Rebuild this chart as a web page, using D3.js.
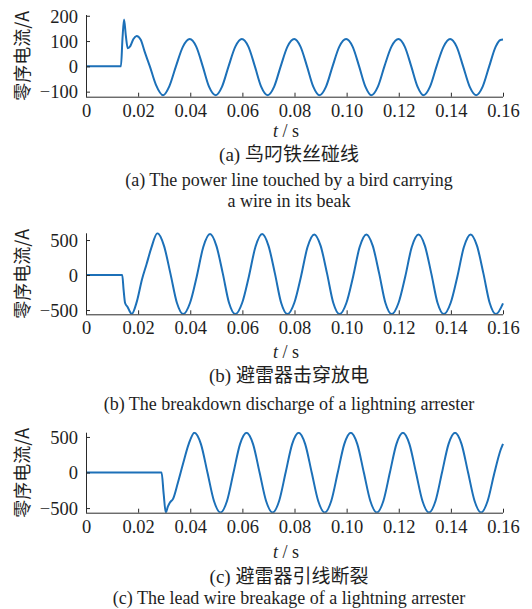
<!DOCTYPE html>
<html>
<head>
<meta charset="utf-8">
<script src="https://cdn.jsdelivr.net/npm/d3@7/dist/d3.min.js"></script>
<style>
  html, body { margin: 0; padding: 0; background: #fff; }
  svg { display: block; }
</style>
</head>
<body>
<svg id="chart" width="532" height="609"></svg>
<script>
// ---------------- DATA ----------------
const xTicks = [0, 0.02, 0.04, 0.06, 0.08, 0.10, 0.12, 0.14, 0.16];
const xTickLabels = ["0", "0.02", "0.04", "0.06", "0.08", "0.10", "0.12", "0.14", "0.16"];

const yTicksA = [-100, 0, 100, 200];
const yTicksB = [-500, 0, 500];
const yTicksC = [-500, 0, 500];

// (a) bird carrying a wire: [t (s), zero-sequence current (A)]
const seriesA = [
  [0,0],[0.0134,0],[0.0140,110],[0.0146,185],[0.0153,120],[0.0160,72],[0.0170,80],[0.0182,108],
  [0.0194,120],[0.0210,105],[0.0225,58],[0.0245,0],[0.0268,-72],[0.0296,-114],
  [0.0320,-78],[0.0345,0],[0.0372,78],[0.0398,108],[0.0423,78],[0.0448,0],[0.0472,-80],[0.0498,-114],
  [0.0522,-80],[0.0547,0],[0.0573,78],[0.0598,108],[0.0623,78],[0.0648,0],[0.0672,-80],[0.0697,-114],
  [0.0722,-80],[0.0747,0],[0.0773,78],[0.0799,108],[0.0823,78],[0.0848,0],[0.0872,-80],[0.0896,-114],
  [0.0921,-80],[0.0946,0],[0.0972,78],[0.0998,108],[0.1023,78],[0.1048,0],[0.1072,-80],[0.1095,-114],
  [0.1120,-80],[0.1145,0],[0.1172,78],[0.1199,108],[0.1223,78],[0.1248,0],[0.1272,-80],[0.1295,-114],
  [0.1320,-80],[0.1345,0],[0.1372,78],[0.1397,108],[0.1422,78],[0.1447,0],[0.1472,-80],[0.1497,-114],
  [0.1522,-80],[0.1547,0],[0.1572,78],[0.1590,104],[0.1600,106]
];

// (b) breakdown discharge of a lightning arrester
const seriesB = [
  [0,0],[0.0139,0],[0.0144,-200],[0.0150,-400],[0.0160,-460],[0.0168,-520],[0.0175,-558],
  [0.0195,-380],[0.0215,-60],[0.0232,150],[0.0250,380],[0.0274,596],
  [0.0299,420],[0.0324,20],[0.0349,-400],[0.0373,-558],
  [0.0399,-400],[0.0425,-20],[0.0450,400],[0.0476,585],
  [0.0500,420],[0.0525,20],[0.0549,-400],[0.0573,-558],
  [0.0599,-400],[0.0625,-20],[0.0650,400],[0.0676,585],
  [0.0700,420],[0.0725,20],[0.0749,-400],[0.0773,-558],
  [0.0799,-400],[0.0825,-20],[0.0850,400],[0.0876,580],
  [0.0900,420],[0.0925,20],[0.0949,-400],[0.0973,-558],
  [0.0999,-400],[0.1025,-20],[0.1050,400],[0.1076,580],
  [0.1100,420],[0.1125,20],[0.1149,-400],[0.1173,-558],
  [0.1199,-400],[0.1225,-20],[0.1250,400],[0.1276,578],
  [0.1300,420],[0.1325,20],[0.1349,-400],[0.1373,-558],
  [0.1399,-400],[0.1425,-20],[0.1450,400],[0.1476,580],
  [0.1500,420],[0.1525,20],[0.1549,-400],[0.1573,-558],
  [0.1600,-405]
];

// (c) lead wire breakage of a lightning arrester
const seriesC = [
  [0,0],[0.0290,0],[0.0298,-300],[0.0306,-563],[0.0314,-480],[0.0322,-420],[0.0334,-370],
  [0.0352,-150],[0.0372,120],[0.0394,400],[0.0416,560],
  [0.0441,400],[0.0466,0],[0.0491,-400],[0.0516,-563],
  [0.0541,-400],[0.0566,0],[0.0591,400],[0.0616,560],
  [0.0641,400],[0.0666,0],[0.0691,-400],[0.0716,-563],
  [0.0741,-400],[0.0766,0],[0.0791,400],[0.0816,560],
  [0.0841,400],[0.0866,0],[0.0891,-400],[0.0916,-563],
  [0.0941,-400],[0.0966,0],[0.0991,400],[0.1016,560],
  [0.1041,400],[0.1066,0],[0.1091,-400],[0.1116,-563],
  [0.1141,-400],[0.1166,0],[0.1191,400],[0.1216,560],
  [0.1241,400],[0.1266,0],[0.1291,-400],[0.1316,-563],
  [0.1341,-400],[0.1366,0],[0.1391,400],[0.1416,560],
  [0.1441,400],[0.1466,0],[0.1491,-400],[0.1516,-563],
  [0.1541,-400],[0.1566,-20],[0.1591,320],[0.1600,404]
];

const yDomainA = [-120, 203];
const yDomainB = [-561, 596];
const yDomainC = [-565, 560];

const yLabel = "零序电流/A";
const xLabel = ["t", " / s"];
const captionsZh = ["(a) 鸟叼铁丝碰线", "(b) 避雷器击穿放电", "(c) 避雷器引线断裂"];
const captionsEn = [
  ["(a) The power line touched by a bird carrying", "a wire in its beak"],
  ["(b) The breakdown discharge of a lightning arrester"],
  ["(c) The lead wire breakage of a lightning arrester"]
];

// ---------------- DRAWING ----------------
const svg = d3.select("#chart");
const X0 = 86, X1 = 503;
const lineColor = "#1c70b8";
const axisColor = "#2a2a2a";
const textColor = "#1e1e1e";
const serif = "'Liberation Serif', 'Times New Roman', serif";
const zhFont = "'Liberation Serif', 'Noto Sans CJK SC', serif";
const capX = 289;

const panels = [
  { data: seriesA, dom: yDomainA, ticks: yTicksA, top: 15, bottom: 96.7,
    tsY: 137, zhY: 161, enY: [186, 207] },
  { data: seriesB, dom: yDomainB, ticks: yTicksB, top: 233.3, bottom: 314.3,
    tsY: 358, zhY: 382, enY: [410] },
  { data: seriesC, dom: yDomainC, ticks: yTicksC, top: 432.7, bottom: 512.7,
    tsY: 558, zhY: 583, enY: [604] }
];

function styleText(sel, fam, size) {
  sel.style("font-family", fam).style("font-size", size + "px").attr("fill", textColor);
}

panels.forEach((p, i) => {
  const x = d3.scaleLinear().domain([0, 0.16]).range([X0, X1]);
  const y = d3.scaleLinear().domain(p.dom).range([p.bottom, p.top]);
  const g = svg.append("g");

  const clipId = "clip" + i;
  g.append("clipPath").attr("id", clipId).append("rect")
    .attr("x", X0).attr("y", p.top - 1).attr("width", X1 - X0 + 1).attr("height", p.bottom - p.top + 1);

  // data line
  const line = d3.line().x(d => x(d[0])).y(d => y(d[1])).curve(d3.curveMonotoneX);
  g.append("path").datum(p.data)
    .attr("clip-path", `url(#${clipId})`)
    .attr("d", line).attr("fill", "none")
    .attr("stroke", lineColor).attr("stroke-width", 2).attr("stroke-linejoin", "round");

  // x axis (ticks inward)
  const xAxis = d3.axisBottom(x).tickValues(xTicks).tickSizeInner(-4).tickSizeOuter(0)
    .tickFormat((d, k) => xTickLabels[k]);
  const gx = g.append("g").attr("transform", `translate(0,${p.bottom})`).call(xAxis);
  gx.select(".domain").attr("stroke", axisColor).attr("d", `M${X0},0.5H${X1}`);
  gx.selectAll(".tick line").attr("stroke", axisColor);
  const xt = gx.selectAll(".tick text").attr("y", 20).attr("dy", 0);
  styleText(xt, serif, 18.5);

  // y axis (ticks inward)
  const yAxis = d3.axisLeft(y).tickValues(p.ticks).tickSizeInner(-4).tickSizeOuter(0);
  const gy = g.append("g").attr("transform", `translate(${X0},0)`).call(yAxis);
  gy.select(".domain").attr("stroke", axisColor).attr("d", `M0.5,${p.top}V${p.bottom}`);
  gy.selectAll(".tick line").attr("stroke", axisColor);
  const yt = gy.selectAll(".tick text").attr("x", -8).attr("dy", "0.34em");
  styleText(yt, serif, 18.5);

  // y label
  const yl = g.append("text")
    .attr("transform", `translate(29,${(p.top + p.bottom) / 2}) rotate(-90)`)
    .attr("text-anchor", "middle").text(yLabel);
  styleText(yl, "'Noto Sans CJK SC', sans-serif", 18);

  // x label
  const tl = g.append("text").attr("x", capX - 3).attr("y", p.tsY).attr("text-anchor", "middle");
  styleText(tl, serif, 18);
  tl.append("tspan").attr("font-style", "italic").text(xLabel[0]);
  tl.append("tspan").text(xLabel[1]);

  // captions
  const zh = g.append("text").attr("x", capX).attr("y", p.zhY)
    .attr("text-anchor", "middle").text(captionsZh[i]);
  styleText(zh, zhFont, 19);
  captionsEn[i].forEach((s, k) => {
    const en = g.append("text").attr("x", capX).attr("y", p.enY[k])
      .attr("text-anchor", "middle").text(s);
    styleText(en, serif, 18);
  });
});
</script>
</body>
</html>
